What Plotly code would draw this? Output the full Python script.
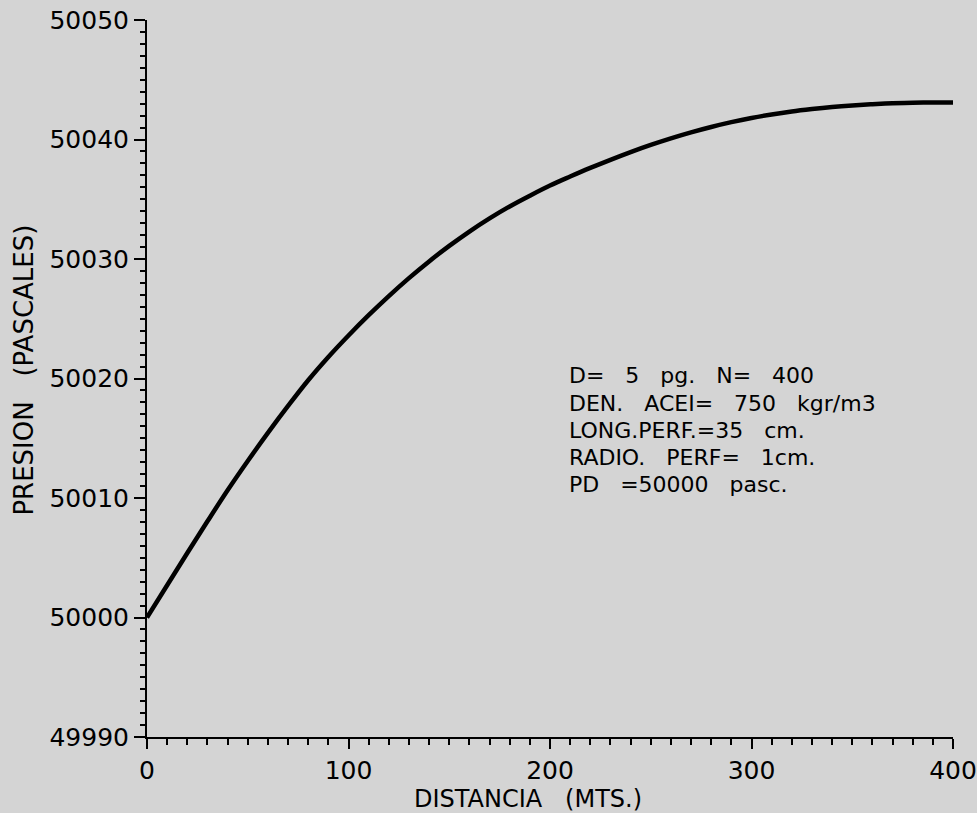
import plotly.graph_objects as go

# Data
distancia = [0, 10, 20, 30, 40, 50, 60, 70, 80, 90, 100, 110, 120, 130, 140,
             150, 160, 170, 180, 190, 200, 210, 220, 230, 240, 250, 260, 270,
             280, 290, 300, 310, 320, 330, 340, 350, 360, 370, 380, 390, 400]
presion = [50000.0, 50002.7, 50005.4, 50008.05, 50010.65, 50013.1, 50015.45,
           50017.7, 50019.85, 50021.8, 50023.6, 50025.3, 50026.9, 50028.4,
           50029.8, 50031.1, 50032.3, 50033.4, 50034.4, 50035.3, 50036.15,
           50036.9, 50037.62, 50038.3, 50038.95, 50039.55, 50040.1, 50040.6,
           50041.05, 50041.45, 50041.8, 50042.1, 50042.35, 50042.55, 50042.72,
           50042.85, 50042.95, 50043.03, 50043.08, 50043.1, 50043.1]

x_ticks = [0, 100, 200, 300, 400]
y_ticks = [49990, 50000, 50010, 50020, 50030, 50040, 50050]

SP = "\u00a0\u00a0\u00a0"
info_lines = [
    f"D={SP}5{SP}pg.{SP}N={SP}400",
    f"DEN.{SP}ACEI={SP}750{SP}kgr/m3",
    f"LONG.PERF.=35{SP}cm.",
    f"RADIO.{SP}PERF={SP}1cm.",
    f"PD{SP}=50000{SP}pasc.",
]
info_y = [50020.21, 50017.95, 50015.69, 50013.43, 50011.17]

FONT = "DejaVu Sans"
BG = "#d4d4d4"

fig = go.Figure()
fig.add_trace(go.Scatter(
    x=distancia, y=presion, mode="lines",
    line=dict(color="black", width=4.5, shape="spline", smoothing=1.0),
    showlegend=False, hoverinfo="skip",
))

for txt, yv in zip(info_lines, info_y):
    fig.add_annotation(x=208.4, y=yv, xref="x", yref="y", text=txt,
                       showarrow=False, xanchor="left", yanchor="middle",
                       font=dict(family=FONT, size=22, color="black"))

# Axis titles (placed as annotations to match the reference position)
fig.add_annotation(x=0.4727, y=-0.0865, xref="paper", yref="paper",
                   text=f"DISTANCIA{SP}(MTS.)", showarrow=False,
                   xanchor="center", yanchor="middle",
                   font=dict(family=FONT, size=24, color="black"))
fig.add_annotation(x=-0.1526, y=0.511, xref="paper", yref="paper",
                   text=f"PRESION{SP}(PASCALES)", showarrow=False, textangle=-90,
                   xanchor="center", yanchor="middle",
                   font=dict(family=FONT, size=26, color="black"))

fig.update_layout(
    width=977, height=813,
    margin=dict(l=147, r=24, t=20, b=76, autoexpand=False),
    paper_bgcolor=BG, plot_bgcolor=BG,
    font=dict(family=FONT, color="black"),
    showlegend=False,
)

fig.update_xaxes(
    range=[0, 400], tickvals=x_ticks, ticktext=[str(v) for v in x_ticks],
    showgrid=False, zeroline=False, automargin=False,
    showline=True, linecolor="black", linewidth=2,
    ticks="outside", ticklen=10, tickwidth=2, tickcolor="black",
    minor=dict(dtick=10, ticks="outside", ticklen=6, tickwidth=2, tickcolor="black", showgrid=False),
    tickfont=dict(family=FONT, size=25, color="black"),
)
fig.update_yaxes(
    range=[49990, 50050], tickvals=y_ticks, ticktext=[str(v) for v in y_ticks],
    showgrid=False, zeroline=False, automargin=False,
    showline=True, linecolor="black", linewidth=2,
    ticks="outside", ticklen=11, tickwidth=2, tickcolor="black",
    minor=dict(dtick=1, ticks="outside", ticklen=5, tickwidth=2, tickcolor="black", showgrid=False),
    tickfont=dict(family=FONT, size=25, color="black"),
)

fig.write_html(
    "out.html",
    config={"displayModeBar": False},
    post_script="document.body.style.margin='0';document.body.style.background='" + BG + "';",
)
